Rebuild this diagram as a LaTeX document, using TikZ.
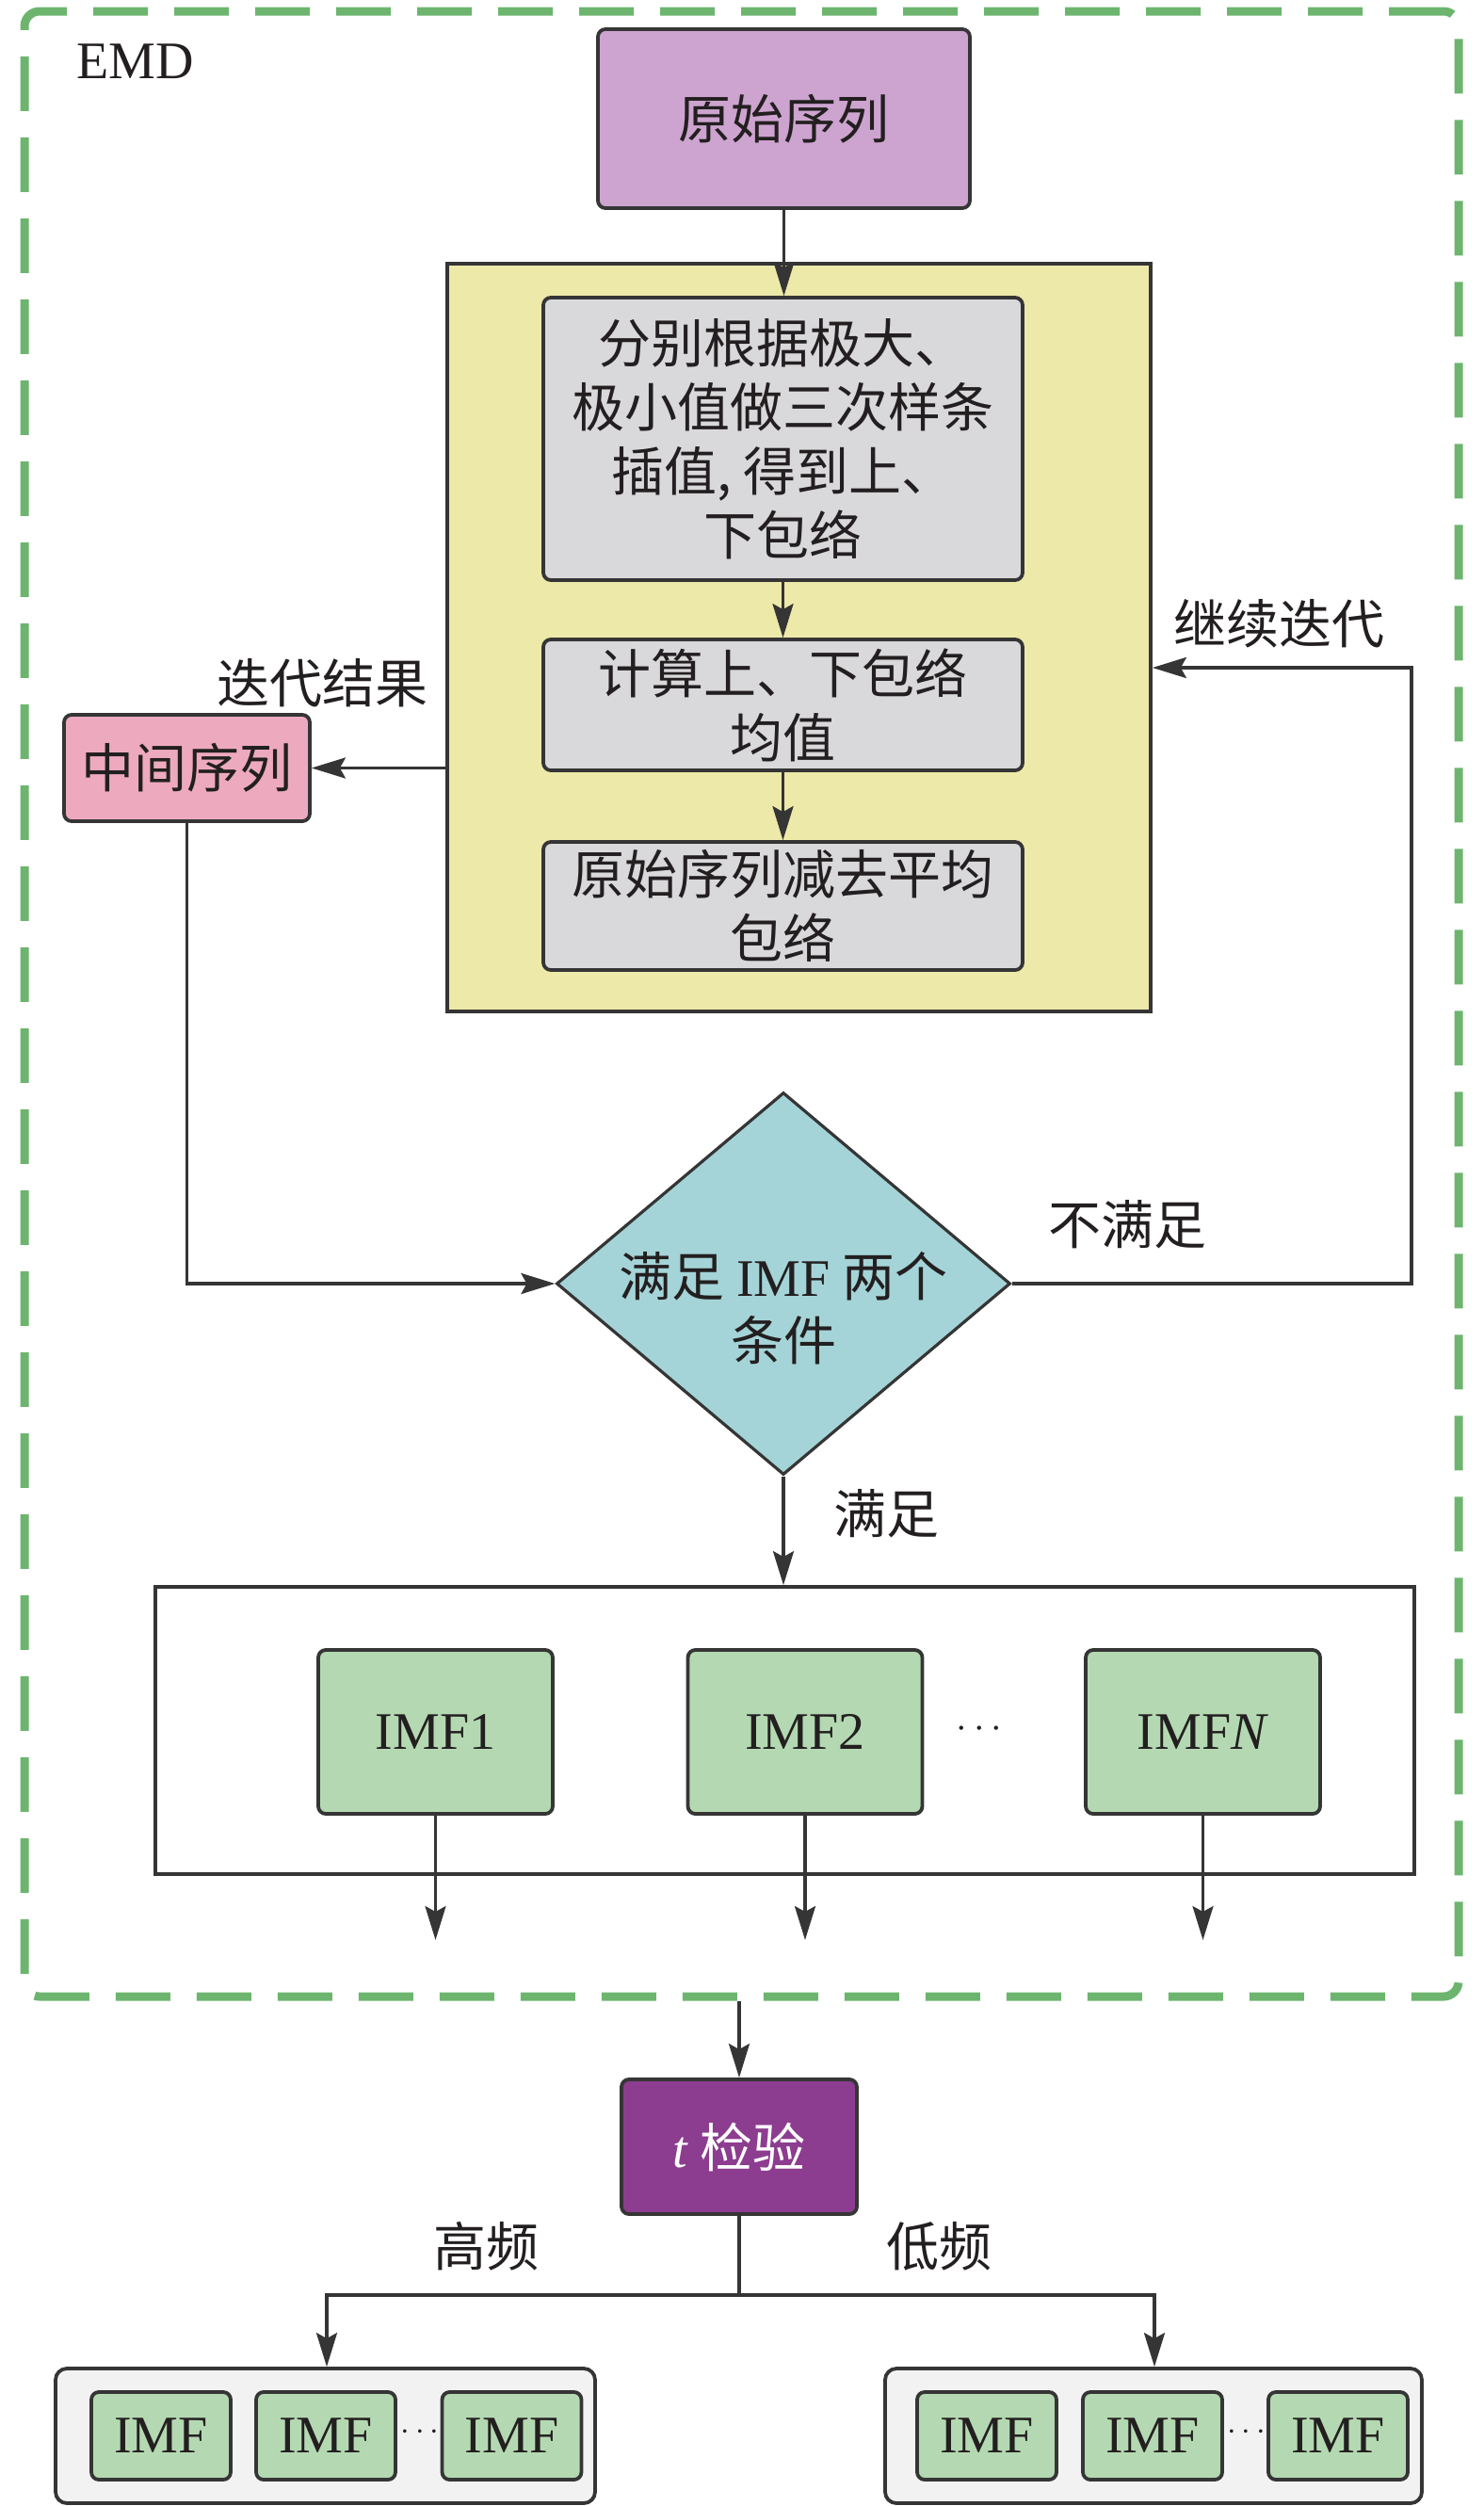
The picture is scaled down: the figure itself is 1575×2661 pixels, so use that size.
\documentclass[tikz,border=0pt]{standalone}
\usepackage{fontspec}
\setmainfont{Liberation Serif}
\newfontfamily\cjk{Noto Sans CJK SC}
\usetikzlibrary{shapes.geometric,arrows.meta}
\definecolor{ink}{HTML}{231F20}
\definecolor{edge}{HTML}{353535}
\definecolor{emdgreen}{HTML}{6DB56F}
\definecolor{purp}{HTML}{CDA4CF}
\definecolor{yel}{HTML}{EDE9A9}
\definecolor{grayb}{HTML}{D9D8DA}
\definecolor{pinkb}{HTML}{EDAABF}
\definecolor{tealb}{HTML}{A4D4D7}
\definecolor{grn}{HTML}{B4D9B2}
\definecolor{tpurp}{HTML}{8C3D8F}
\definecolor{lgray}{HTML}{F2F2F2}
\begin{document}
\begin{tikzpicture}[x=0.5pt,y=-0.5pt,
  txt/.style={font={\cjk\fontsize{28}{34}\selectfont}, text=ink, align=center},
  lat/.style={font={\rmfamily\fontsize{28}{34}\selectfont}},
  box/.style={draw=edge, line width=1.9pt, rounded corners=4pt, txt, inner sep=0pt},
  plainbox/.style={draw=edge, line width=1.9pt, inner sep=0pt},
  ln/.style={line width=1.6pt, draw=edge},
  arr/.style={ln, -{Stealth[length=18pt,width=11pt,inset=3pt]}}]
\useasboundingbox (0,0) rectangle (1575,2661);

% EMD frame
\node[draw=emdgreen, line width=4.5pt, dash pattern=on 29pt off 14pt,
  rounded corners=8pt, minimum width=761.5pt, minimum height=1054pt, inner sep=0pt] (emd) at (787.5,1066) {};
\node[txt, lat] (emdlbl) at (144,65) {EMD};

% top part
\node[box, fill=purp, minimum width=197.5pt, minimum height=95pt] (orig) at (832.5,126) {原始序列};
\node[plainbox, fill=yel, minimum width=373.5pt, minimum height=397pt] (yel) at (848.5,677) {};
\node[box, fill=grayb, minimum width=254.5pt, minimum height=150pt] (g1) at (831.5,466)
  {分别根据极大、\\极小值做三次样条\\插值, 得到上、\\下包络};
\node[box, fill=grayb, minimum width=254.5pt, minimum height=69.5pt] (g2) at (831.5,748.5)
  {计算上、下包络\\均值};
\node[box, fill=grayb, minimum width=254.5pt, minimum height=68pt] (g3) at (831.5,962)
  {原始序列减去平均\\包络};
\node[box, fill=pinkb, minimum width=130.5pt, minimum height=56.5pt] (mid) at (198.5,815.5) {中间序列};

% decision
\node[diamond, draw=edge, line width=1.6pt, fill=tealb, minimum width=241pt,
  minimum height=203pt, inner sep=0pt] (cond) at (832,1363) {};
\node[txt] (condtxt) at (832,1389) {满足 {\rmfamily IMF} 两个\\条件};

% IMF container
\node[plainbox, minimum width=668.5pt, minimum height=152.5pt] (imfbox) at (833.5,1837.5) {};
\node[box, lat, fill=grn, minimum width=124.5pt, minimum height=87pt] (imf1) at (462.5,1839) {IMF1};
\node[box, lat, fill=grn, minimum width=124.5pt, minimum height=87pt] (imf2) at (855,1839) {IMF2};
\node[box, lat, fill=grn, minimum width=124.5pt, minimum height=87pt] (imfN) at (1277.5,1839) {IMF\textit{N}};
\node[txt, font=\fontsize{22}{26}\selectfont] (dotsA) at (1040,1836) {$\cdots$};
\coordinate (o1) at (462.5,2060);
\coordinate (o2) at (855,2060);
\coordinate (oN) at (1277.5,2060);

% t test
\node[box, fill=tpurp, text=white, minimum width=125pt, minimum height=71.5pt] (tbox) at (785,2279.5)
  {{\rmfamily\itshape t} 检验};
\coordinate (jn) at (785,2437);
\coordinate (hl) at (347,2437);
\coordinate (hr) at (1226,2437);

% groups
\node[plainbox, fill=lgray, rounded corners=6pt, minimum width=286.5pt, minimum height=71.5pt] (grpL) at (345.5,2586.5) {};
\node[plainbox, fill=lgray, rounded corners=6pt, minimum width=285pt, minimum height=71.5pt] (grpR) at (1225,2586.5) {};
\foreach \nm/\cx in {hA/171, hB/346, hC/543.5, lA/1048, lB/1224, lC/1421}{
  \node[box, lat, fill=grn, minimum width=74pt, minimum height=46.5pt] (\nm) at (\cx,2586.5) {IMF};
}
\node[txt, font=\fontsize{16}{20}\selectfont] (dotsL) at (446,2583) {$\cdots$};
\node[txt, font=\fontsize{16}{20}\selectfont] (dotsR) at (1323.5,2583) {$\cdots$};

% labels
\node[txt] (lbl1) at (342,725) {迭代结果};
\node[txt] (lbl2) at (1358,662) {继续迭代};
\node[txt] (lbl3) at (1197,1300) {不满足};
\node[txt] (lbl4) at (941,1607) {满足};
\node[txt] (lbl5) at (516,2385) {高频};
\node[txt] (lbl6) at (997,2385) {低频};

% connectors
\draw[arr] (orig.south) -- (orig.south |- g1.north);
\draw[arr] (g1) -- (g2);
\draw[arr] (g2) -- (g3);
\draw[arr] (yel.west |- mid.east) -- (mid.east);
\draw[arr] (mid.south) |- (cond.west);
\coordinate (lp1) at (1499,1363);
\coordinate (lp2) at (1499,709);
\draw[arr] (cond.east) -- (lp1) -- (lp2) -- (lp2 -| yel.east);
\draw[arr] (cond.south) -- (cond.south |- imfbox.north);
\draw[arr] (imf1.south) -- (o1);
\draw[arr] (imf2.south) -- (o2);
\draw[arr] (imfN.south) -- (oN);
\draw[arr] (emd.south -| tbox.north) -- (tbox.north);
\draw[ln] (tbox.south) -- (jn);
\draw[arr] (jn) -- (hl) -- (hl |- grpL.north);
\draw[arr] (jn) -- (hr) -- (hr |- grpR.north);
\end{tikzpicture}
\end{document}
